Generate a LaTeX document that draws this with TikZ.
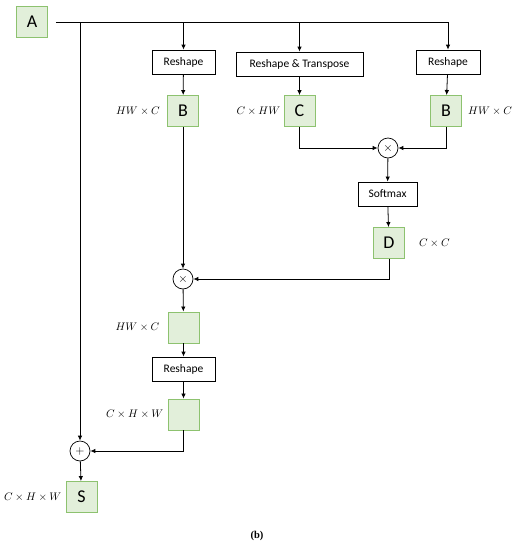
\documentclass[tikz,border=0pt]{standalone}
\usepackage{fontspec}
\setmainfont{Carlito}
\newfontfamily\capfont{Liberation Serif}
\usetikzlibrary{arrows.meta,calc}
\definecolor{gfill}{HTML}{E2EFDA}
\definecolor{gborder}{HTML}{8DC26F}
\begin{document}
\begin{tikzpicture}[x=1pt,y=-1pt,
  gbox/.style={draw=gborder,fill=gfill,line width=0.9pt,minimum width=31pt,minimum height=31pt,inner sep=0pt,font=\fontsize{18}{18}\selectfont},
  opbox/.style={draw,line width=0.8pt,minimum height=24pt,inner sep=0pt,font=\fontsize{11.5}{13}\selectfont},
  circ/.style={draw,circle,line width=0.7pt,minimum size=20pt,inner sep=0pt,font=\fontsize{12}{12}\selectfont},
  dimlab/.style={font=\fontsize{10.5}{12}\selectfont,inner sep=0pt},
  conn/.style={line width=0.8pt},
  arr/.style={line width=0.8pt,-{Latex[length=5pt,width=4.5pt]}}]
\useasboundingbox (0,0) rectangle (518,550);
% nodes
\node[gbox] (A) at (32,22) {A};
\node[opbox,minimum width=63pt] (R1) at (183.5,62) {Reshape};
\node[opbox,minimum width=127pt] (RT) at (299.5,64) {Reshape \& Transpose};
\node[opbox,minimum width=64pt] (R3) at (448,62) {Reshape};
\node[gbox] (B1) at (183,111) {B};
\node[gbox] (C) at (299.5,111) {C};
\node[gbox] (B2) at (446,111) {B};
\node[circ] (M1) at (388,148) {$\times$};
\node[opbox,minimum width=59pt] (SM) at (387.5,194) {Softmax};
\node[gbox] (D) at (389,243) {D};
\node[circ] (M2) at (183,279) {$\times$};
\node[gbox] (E1) at (183.5,327.5) {};
\node[opbox,minimum width=63pt] (R4) at (183.5,369) {Reshape};
\node[gbox] (E2) at (183.5,414.5) {};
\node[circ] (P) at (80,451) {$+$};
\node[gbox] (S) at (81.5,497) {S};
% dimension labels
\node[dimlab,anchor=east] (lB1) at ([xshift=-7pt]B1.west) {$HW\times C$};
\node[dimlab,anchor=east] (lC) at ([xshift=-3pt]C.west) {$C\times HW$};
\node[dimlab,anchor=west] (lB2) at ([xshift=6pt]B2.east) {$HW\times C$};
\node[dimlab,anchor=west] (lD) at ([xshift=14pt]D.east) {$C\times C$};
\node[dimlab,anchor=east] (lE1) at ([xshift=-8pt]E1.west) {$HW\times C$};
\node[dimlab,anchor=east] (lE2) at ([xshift=-4pt]E2.west) {$C\times H\times W$};
\node[dimlab,anchor=east] (lS) at ([xshift=-4pt]S.west) {$C\times H\times W$};
\node[font=\capfont\fontsize{10.5}{12}\selectfont\bfseries] (cap) at (257,536) {(b)};
% connectors
\coordinate (a0) at ([xshift=8pt]A.east);
\coordinate (t3) at (R3 |- a0);
\coordinate (tl) at (P |- a0);
\draw[conn] (a0) -- (t3);
\draw[arr] (t3) -- (R3);
\draw[arr] (R1 |- a0) -- (R1);
\draw[arr] (RT |- a0) -- (RT);
\draw[arr] (tl) -- (P);
\draw[arr] (R1) -- (B1);
\draw[arr] (RT) -- (C);
\draw[arr] (R3) -- (B2);
\draw[arr] (C.south) |- (M1);
\draw[arr] (B2.south) |- (M1);
\draw[arr] (M1) -- (SM);
\draw[arr] (SM) -- (D);
\draw[arr] (B1) -- (M2);
\draw[arr] (D.south) |- (M2);
\draw[arr] (M2) -- (E1);
\draw[arr] (E1) -- (R4);
\draw[arr] (R4) -- (E2);
\draw[arr] (E2.south) |- (P);
\draw[arr] (P) -- (S);
\end{tikzpicture}
\end{document}
